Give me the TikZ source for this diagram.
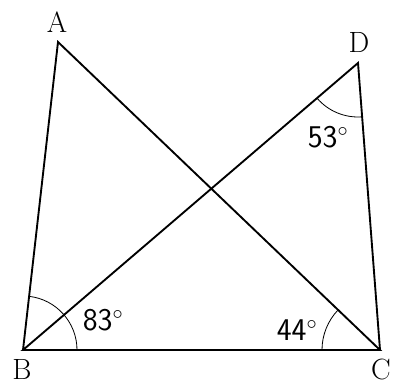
\documentclass[tikz,border=0pt]{standalone}
\usepackage{tikz}
\usetikzlibrary{angles}

\begin{document}
\begin{tikzpicture}[
  x=0.03cm, y=0.03cm,
  side/.style={line width=1.6pt, line join=miter},
  vertex/.style={font=\fontsize{25}{28}\selectfont, inner sep=0pt},
  measure/.style={font=\sffamily\fontsize{27}{30}\selectfont, inner sep=0pt},
  anglearc/.style={draw, line width=0.7pt, angle radius=1.62cm}
]
\useasboundingbox (0,0) rectangle (396,385);
\coordinate (A) at (58,343);
\coordinate (B) at (23,35);
\coordinate (C) at (380,35);
\coordinate (D) at (358,322);

\draw[side] (B) -- (A) -- (C) -- (B) -- (D) -- (C);

\pic[anglearc] {angle = C--B--A};
\pic[anglearc, angle radius=1.74cm] {angle = A--C--B};
\pic[anglearc] {angle = B--D--C};

\node[vertex] (labA) at (57,363) {A};
\node[vertex] (labB) at (22,16) {B};
\node[vertex] (labC) at (381,16) {C};
\node[vertex] (labD) at (359,343) {D};

\node[measure] (angB) at (103,65) {83$^\circ$};
\node[measure] (angC) at (297,55) {44$^\circ$};
\node[measure] (angD) at (328,248) {53$^\circ$};
\end{tikzpicture}
\end{document}
